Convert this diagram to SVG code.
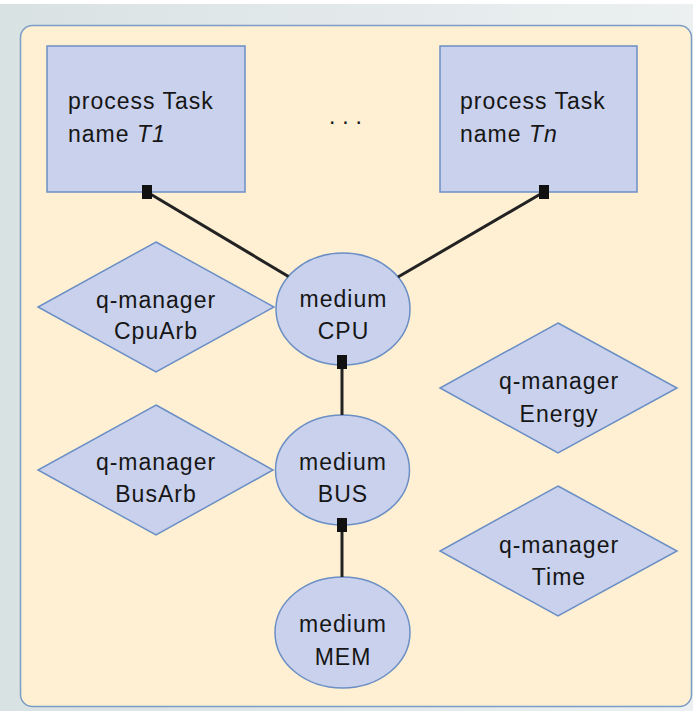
<svg xmlns="http://www.w3.org/2000/svg" width="693" height="715" viewBox="0 0 693 715">
  <defs>
    <linearGradient id="bg" x1="0" y1="0" x2="1" y2="0">
      <stop offset="0" stop-color="#d9e2e3"/>
      <stop offset="1" stop-color="#ecf0f1"/>
    </linearGradient>
    <style>
      .node { fill: #c9d1ed; stroke: #6b8fc4; stroke-width: 1.5; }
      .lbl { font-family: "Liberation Sans", Arial, sans-serif; font-size: 23px; letter-spacing: 1px; fill: #161616; }
      .mid { text-anchor: middle; }
      .link { stroke: #222; stroke-width: 3; fill: none; }
      .end { fill: #111; }
    </style>
  </defs>

  <!-- backdrop and container panel -->
  <rect x="0" y="0" width="693" height="715" fill="#ffffff"/>
  <rect x="0" y="4" width="693" height="707" fill="url(#bg)"/>
  <rect x="20.5" y="25.5" width="671" height="681" rx="12" fill="#fff0d4" stroke="#7b9cc4" stroke-width="1.5"/>

  <!-- process tasks -->
  <g id="task-t1">
    <rect class="node" x="47" y="46" width="198" height="146"/>
    <text class="lbl" x="68" y="109">process Task</text>
    <text class="lbl" x="68" y="142">name <tspan font-style="italic">T1</tspan></text>
  </g>
  <g id="task-tn">
    <rect class="node" x="440" y="46" width="197" height="146"/>
    <text class="lbl" x="460" y="109">process Task</text>
    <text class="lbl" x="460" y="142">name <tspan font-style="italic">Tn</tspan></text>
  </g>
  <text id="ellipsis" class="lbl" x="329" y="124" style="letter-spacing:6.8px">...</text>

  <!-- media -->
  <g id="medium-cpu">
    <ellipse class="node" cx="343" cy="309" rx="67" ry="56"/>
    <text class="lbl mid" x="343.5" y="307">medium</text>
    <text class="lbl mid" x="343.5" y="339">CPU</text>
  </g>
  <g id="medium-bus">
    <ellipse class="node" cx="342.5" cy="470" rx="67" ry="55"/>
    <text class="lbl mid" x="343" y="470">medium</text>
    <text class="lbl mid" x="343" y="502">BUS</text>
  </g>
  <g id="medium-mem">
    <ellipse class="node" cx="342.5" cy="632.5" rx="67.5" ry="55.5"/>
    <text class="lbl mid" x="343" y="632">medium</text>
    <text class="lbl mid" x="343" y="665">MEM</text>
  </g>

  <!-- q-managers -->
  <g id="qm-cpuarb">
    <polygon class="node" points="156,242 274,307 156,372 38,307"/>
    <text class="lbl mid" x="156" y="308">q-manager</text>
    <text class="lbl mid" x="156" y="339">CpuArb</text>
  </g>
  <g id="qm-busarb">
    <polygon class="node" points="156,405 273,470 156,535 38,470"/>
    <text class="lbl mid" x="156" y="470">q-manager</text>
    <text class="lbl mid" x="156" y="502">BusArb</text>
  </g>
  <g id="qm-energy">
    <polygon class="node" points="558,323 677,388 558,453 440,388"/>
    <text class="lbl mid" x="559" y="389">q-manager</text>
    <text class="lbl mid" x="559" y="422">Energy</text>
  </g>
  <g id="qm-time">
    <polygon class="node" points="558,486 677,551 558,616 440,551"/>
    <text class="lbl mid" x="559" y="553">q-manager</text>
    <text class="lbl mid" x="559" y="585">Time</text>
  </g>

  <!-- connectors -->
  <g id="connectors">
    <line class="link" x1="147" y1="192" x2="288.5" y2="276.5"/>
    <line class="link" x1="544" y1="192" x2="398" y2="277"/>
    <line class="link" x1="342" y1="362" x2="342" y2="415"/>
    <line class="link" x1="342" y1="525" x2="342" y2="577"/>
    <rect class="end" x="142" y="185" width="10" height="14"/>
    <rect class="end" x="539" y="185" width="10" height="14"/>
    <rect class="end" x="337" y="355" width="10" height="14"/>
    <rect class="end" x="337" y="518" width="10" height="14"/>
  </g>
</svg>
